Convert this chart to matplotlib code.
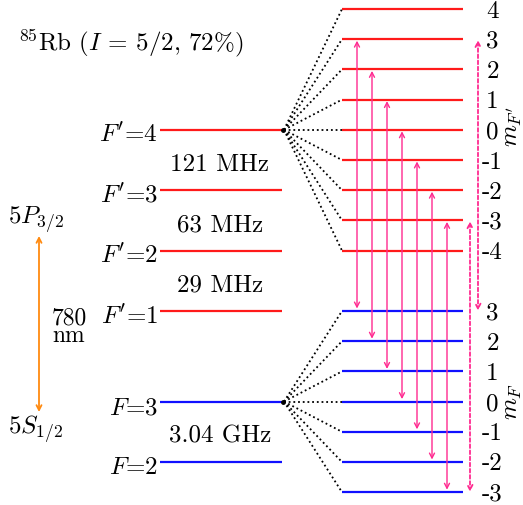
import numpy as np
import matplotlib
matplotlib.use('Agg')
import matplotlib.pyplot as plt

plt.rcParams['font.family'] = 'cmr10'
plt.rcParams['mathtext.fontset'] = 'cm'
plt.rcParams['axes.unicode_minus'] = False

# level data
excited_F = [4, 3, 2, 1]
ground_F = [3, 2]
excited_gaps = ['121 MHz', '63 MHz', '29 MHz']
ground_gap = '3.04 GHz'
excited_mF = [4, 3, 2, 1, 0, -1, -2, -3, -4]
ground_mF = [3, 2, 1, 0, -1, -2, -3]
pi_lines = [3, 2, 1, 0, -1, -2, -3]     # m -> m transitions, solid
dashed_lines = [3, -3]                   # dashed m -> m transitions

# layout (pixel-like coords, y down)
row_h = 30.2
y0 = 10.0
def row_y(r):
    return y0 + row_h * r

def y_exc_m(m):
    return row_y(4 - m)

def y_gnd_m(m):
    return row_y(13 - m)

def y_exc_F(F):
    return row_y(4 + 2 * (4 - F))

def y_gnd_F(F):
    return row_y(13 + 2 * (3 - F))

RED = '#ff1a1a'
BLUE = '#1010ff'
PINK = '#ff2a90'
ORANGE = '#ff8a10'
FS = 18

fig = plt.figure(figsize=(5.23, 5.06), dpi=100)
ax = fig.add_axes([0, 0, 1, 1])
ax.set_xlim(0, 523)
ax.set_ylim(506, 0)
ax.axis('off')

hx0, hx1 = 160, 282
sx0, sx1 = 342, 463

# hyperfine levels
for F in excited_F:
    y = y_exc_F(F)
    ax.plot([hx0, hx1], [y, y], color=RED, lw=1.6, solid_capstyle='butt')
    ax.text(hx0 - 2, y + 11.5, r"$F'$=%d" % F, ha='right', va='baseline', fontsize=FS)
for F in ground_F:
    y = y_gnd_F(F)
    ax.plot([hx0, hx1], [y, y], color=BLUE, lw=1.6, solid_capstyle='butt')
    ax.text(hx0 - 2, y + 11.5, r"$F$=%d" % F, ha='right', va='baseline', fontsize=FS)

for i, lab in enumerate(excited_gaps):
    y = 0.5 * (y_exc_F(excited_F[i]) + y_exc_F(excited_F[i + 1]))
    ax.text(220, y + 10, lab, ha='center', va='baseline', fontsize=FS)
y = 0.5 * (y_gnd_F(ground_F[0]) + y_gnd_F(ground_F[1]))
ax.text(220, y + 10, ground_gap, ha='center', va='baseline', fontsize=FS)

# Zeeman sublevels + fan lines
fx = 284
for m in excited_mF:
    y = y_exc_m(m)
    ax.plot([sx0, sx1], [y, y], color=RED, lw=1.6, solid_capstyle='butt')
    ax.plot([fx, sx0], [y_exc_F(4), y], color='black', lw=1.3, ls=(0, (1, 1.6)))
    ax.text(492.5, y + 7.5, str(m), ha='center', va='baseline', fontsize=FS)
for m in ground_mF:
    y = y_gnd_m(m)
    ax.plot([sx0, sx1], [y, y], color=BLUE, lw=1.6, solid_capstyle='butt')
    ax.plot([fx, sx0], [y_gnd_F(3), y], color='black', lw=1.3, ls=(0, (1, 1.6)))
    ax.text(492.5, y + 7.5, str(m), ha='center', va='baseline', fontsize=FS)
ax.plot([fx - 1, fx - 1], [y_exc_F(4), y_gnd_F(3)], 'o', color='black', ms=2.5)

ax.text(513, 127, r"$m_{F'}$", rotation=90, ha='center', va='center', fontsize=FS)
ax.text(513, 401, r"$m_F$", rotation=90, ha='center', va='center', fontsize=FS)

# transitions
astyle = '<->,head_length=0.35,head_width=0.18'
for i, m in enumerate(pi_lines):
    x = 357 + 15 * i
    ax.annotate('', xy=(x, y_gnd_m(m) - 2.5), xytext=(x, y_exc_m(m) + 1.5),
                arrowprops=dict(arrowstyle=astyle, color=PINK, lw=1.0,
                                shrinkA=0, shrinkB=0))
for m, x in zip(dashed_lines, [478, 470]):
    ax.annotate('', xy=(x, y_gnd_m(m) - 0.5), xytext=(x, y_exc_m(m) + 1.0),
                arrowprops=dict(arrowstyle=astyle, color=PINK, lw=1.3, ls=(0, (2.0, 1.4)),
                                shrinkA=0, shrinkB=0))

# fine-structure labels
ax.text(18, 50, r"$^{85}$Rb ($I$ = 5/2, 72%)", ha='left', va='baseline', fontsize=FS)
ax.text(8, 225, r"$5P_{3/2}$", ha='left', va='baseline', fontsize=FS)
ax.text(8, 435, r"$5S_{1/2}$", ha='left', va='baseline', fontsize=FS)
ax.annotate('', xy=(39, 413), xytext=(39, 237),
            arrowprops=dict(arrowstyle=astyle, color=ORANGE, lw=1.3, shrinkA=0, shrinkB=0))
ax.text(69, 327, '780\nnm', ha='center', va='center', multialignment='center',
        linespacing=0.75, fontsize=17)

fig.savefig('out.png', dpi=100)
